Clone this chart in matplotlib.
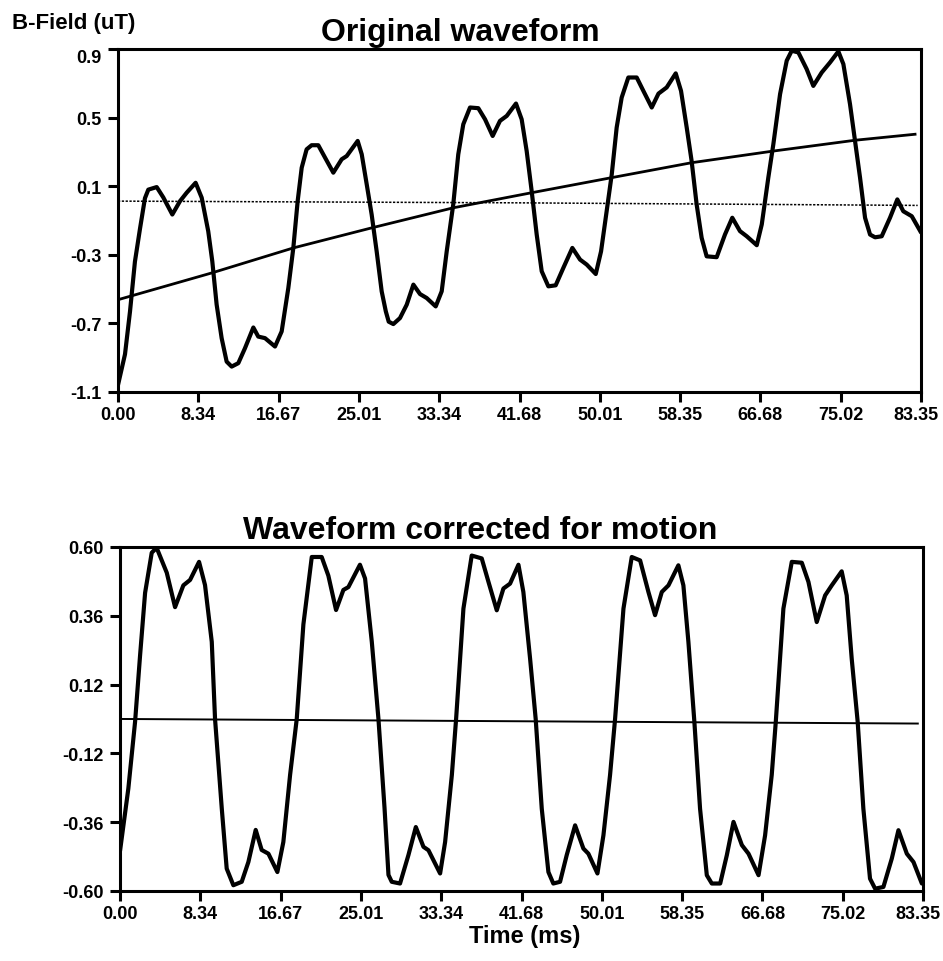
import matplotlib
matplotlib.use("Agg")
import matplotlib.pyplot as plt

plt.rcParams['font.family'] = ['Liberation Sans', 'DejaVu Sans']
plt.rcParams['font.weight'] = 'bold'

# ---------------- data ----------------
x_ticks = [0.00, 8.34, 16.67, 25.01, 33.34, 41.68, 50.01, 58.35, 66.68, 75.02, 83.35]
x_tick_labels = ["0.00", "8.34", "16.67", "25.01", "33.34", "41.68", "50.01",
                 "58.35", "66.68", "75.02", "83.35"]

top_yticks = [-1.1, -0.7, -0.3, 0.1, 0.5, 0.9]
top_ytick_labels = ["-1.1", "-0.7", "-0.3", "0.1", "0.5", "0.9"]
bot_yticks = [-0.60, -0.36, -0.12, 0.12, 0.36, 0.60]
bot_ytick_labels = ["-0.60", "-0.36", "-0.12", "0.12", "0.36", "0.60"]

# Original waveform (time ms, B-field uT)
orig_t = [0.0, 0.73, 1.25, 1.76, 2.28, 2.8, 3.15, 4.02, 4.7, 5.64, 6.44, 7.13, 8.06, 8.69,
          9.37, 9.79, 10.24, 10.76, 11.28, 11.8, 12.49, 13.18, 14.05, 14.56, 15.26, 16.3,
          16.99, 17.68, 18.2, 18.65, 19.07, 19.58, 20.1, 20.79, 21.49, 22.35, 23.22, 23.74,
          24.88, 25.3, 25.82, 26.33, 26.85, 27.37, 27.8, 28.1, 28.58, 29.27, 29.97, 30.66,
          31.35, 32.04, 32.98, 33.6, 34.12, 34.8, 35.32, 35.84, 36.54, 37.4, 38.1, 38.89,
          39.65, 40.35, 41.31, 41.9, 42.42, 42.94, 43.46, 43.98, 44.67, 45.43, 46.22, 47.16,
          47.96, 48.65, 49.59, 50.14, 50.72, 51.25, 51.76, 52.28, 52.97, 53.84, 54.53, 55.4,
          56.1, 56.95, 57.89, 58.44, 59.03, 59.54, 60.06, 60.58, 61.1, 62.14, 63.0, 63.76,
          64.56, 65.26, 66.3, 66.82, 67.5, 68.02, 68.72, 69.41, 69.93, 70.62, 71.48, 72.17,
          73.04, 73.91, 74.77, 75.29, 75.98, 76.5, 77.02, 77.54, 78.06, 78.58, 79.27, 80.13,
          80.89, 81.51, 82.39, 83.18, 83.35]
orig_v = [-1.06, -0.88, -0.63, -0.34, -0.15, 0.03, 0.08, 0.095, 0.035, -0.065, 0.013, 0.062,
          0.12, 0.033, -0.163, -0.338, -0.59, -0.786, -0.923, -0.952, -0.932, -0.845, -0.724,
          -0.777, -0.786, -0.835, -0.747, -0.494, -0.26, 0.013, 0.208, 0.315, 0.339, 0.339,
          0.267, 0.179, 0.257, 0.276, 0.364, 0.286, 0.11, -0.065, -0.28, -0.513, -0.63, -0.69,
          -0.704, -0.669, -0.591, -0.474, -0.529, -0.552, -0.601, -0.513, -0.28, -0.006, 0.286,
          0.461, 0.559, 0.555, 0.49, 0.393, 0.481, 0.51, 0.582, 0.49, 0.305, 0.071, -0.182,
          -0.396, -0.484, -0.478, -0.377, -0.26, -0.328, -0.357, -0.412, -0.28, -0.046, 0.169,
          0.442, 0.617, 0.734, 0.734, 0.656, 0.559, 0.64, 0.676, 0.758, 0.656, 0.442, 0.247,
          -0.006, -0.201, -0.309, -0.314, -0.182, -0.084, -0.162, -0.192, -0.244, -0.123, 0.15,
          0.344, 0.637, 0.832, 0.89, 0.88, 0.783, 0.685, 0.763, 0.822, 0.886, 0.812, 0.578,
          0.364, 0.15, -0.084, -0.182, -0.198, -0.192, -0.084, 0.023, -0.046, -0.075, -0.153,
          -0.17]

# Motion trend
trend_t = [0.0, 9.72, 18.2, 26.33, 34.8, 42.94, 51.25, 59.54, 68.02, 76.5, 82.73]
trend_v = [-0.562, -0.406, -0.26, -0.143, -0.026, 0.062, 0.15, 0.237, 0.305, 0.368, 0.403]

# Baselines
top_base_t = [0.0, 41.68, 83.0]
top_base_v = [0.013, 0.003, -0.012]
bot_base_t = [0.0, 82.8]
bot_base_v = [0.0, -0.016]

# Corrected waveform
corr_t = [0.0, 0.86, 1.56, 2.08, 2.6, 3.29, 3.8, 4.85, 5.71, 6.57, 7.27, 8.2, 8.82, 9.52,
          9.86, 10.56, 11.07, 11.76, 12.63, 13.32, 14.08, 14.7, 15.4, 16.33, 16.95, 17.65,
          18.34, 19.03, 19.9, 20.93, 21.62, 22.42, 23.18, 23.7, 24.9, 25.43, 26.13, 26.82,
          27.45, 27.86, 28.2, 29.06, 29.93, 30.7, 31.49, 32.01, 33.22, 33.74, 34.44, 34.88,
          35.64, 36.5, 37.54, 38.24, 39.1, 39.79, 40.48, 41.35, 41.86, 42.56, 43.14, 43.77,
          44.46, 44.97, 45.67, 46.36, 47.23, 48.09, 48.61, 49.55, 50.17, 50.86, 51.38, 52.25,
          53.11, 53.98, 54.84, 55.53, 56.23, 56.92, 57.95, 58.47, 58.99, 59.61, 60.2, 60.9,
          61.42, 62.29, 62.98, 63.67, 64.54, 65.23, 66.27, 66.95, 67.64, 68.06, 68.85, 69.72,
          70.76, 71.45, 72.31, 73.18, 73.87, 74.9, 75.42, 75.94, 76.56, 77.15, 77.84, 78.37,
          79.23, 80.1, 80.79, 81.66, 82.35, 83.22]
corr_v = [-0.46, -0.243, -0.01, 0.222, 0.44, 0.58, 0.597, 0.51, 0.39, 0.466, 0.485, 0.548,
          0.467, 0.269, 0.0, -0.313, -0.522, -0.58, -0.568, -0.499, -0.387, -0.457, -0.47,
          -0.534, -0.429, -0.195, 0.0, 0.33, 0.565, 0.565, 0.50, 0.38, 0.45, 0.46, 0.538, 0.49,
          0.269, 0.0, -0.31, -0.544, -0.568, -0.574, -0.475, -0.377, -0.446, -0.458, -0.539,
          -0.429, -0.195, 0.0, 0.385, 0.57, 0.56, 0.478, 0.379, 0.455, 0.472, 0.538, 0.443,
          0.21, 0.0, -0.313, -0.534, -0.574, -0.568, -0.475, -0.371, -0.452, -0.47, -0.539,
          -0.406, -0.195, 0.0, 0.385, 0.565, 0.553, 0.443, 0.362, 0.443, 0.466, 0.536, 0.466,
          0.269, -0.01, -0.313, -0.545, -0.574, -0.574, -0.475, -0.359, -0.44, -0.47, -0.545,
          -0.406, -0.195, -0.01, 0.385, 0.548, 0.545, 0.478, 0.338, 0.431, 0.466, 0.515, 0.431,
          0.21, -0.01, -0.313, -0.557, -0.592, -0.586, -0.487, -0.388, -0.47, -0.499, -0.574]

# ---------------- figure ----------------
W, H = 943, 962
fig = plt.figure(figsize=(W / 100, H / 100), dpi=100)
ax1 = fig.add_axes([0.1251, 0.5915, 0.8516, 0.3565])
ax2 = fig.add_axes([0.1273, 0.0728, 0.8516, 0.3576])

tick_fs = 13
tick_len = 7
tick_pad_x = 3


def style(ax, yticks, ylabels, ylim):
    ax.set_xlim(0, 83.35)
    ax.set_ylim(*ylim)
    ax.set_xticks(x_ticks)
    # last label is drawn separately, nudged left so it stays inside the figure
    ax.set_xticklabels(x_tick_labels[:-1] + [""], fontsize=tick_fs, fontweight='bold')
    ax.annotate(x_tick_labels[-1], xy=(x_ticks[-1], 0),
                xycoords=('data', 'axes fraction'),
                xytext=(-4, -(tick_len + tick_pad_x)), textcoords='offset points',
                ha='center', va='top', fontsize=tick_fs, fontweight='bold',
                annotation_clip=False)
    ax.set_yticks(yticks)
    ax.set_yticklabels(ylabels, fontsize=tick_fs, fontweight='bold')
    for s in ax.spines.values():
        s.set_linewidth(2.2)
    ax.tick_params(axis='both', direction='out', length=tick_len, width=2.2)
    ax.tick_params(axis='x', pad=tick_pad_x)
    ax.tick_params(axis='y', pad=5)


ax1.plot(orig_t, orig_v, color='black', lw=3.0, solid_joinstyle='round',
         solid_capstyle='round')
ax1.plot(trend_t, trend_v, color='black', lw=2.0)
ax1.plot(top_base_t, top_base_v, color='black', lw=1.1, linestyle=(0, (1.5, 1)))
style(ax1, top_yticks, top_ytick_labels, (-1.1, 0.9))
ax1.get_yticklabels()[-1].set_verticalalignment('top')

ax2.plot(corr_t, corr_v, color='black', lw=3.0, solid_joinstyle='round',
         solid_capstyle='round')
ax2.plot(bot_base_t, bot_base_v, color='black', lw=1.4)
style(ax2, bot_yticks, bot_ytick_labels, (-0.60, 0.60))

fig.text(460 / W, 1 - 33 / H, "Original waveform", fontsize=23, fontweight='bold',
         ha='center', va='center')
fig.text(480 / W, 1 - 531 / H, "Waveform corrected for motion", fontsize=23,
         fontweight='bold', ha='center', va='center')
fig.text(12 / W, 1 - 23 / H, "B-Field (uT)", fontsize=16, fontweight='bold', ha='left',
         va='center')
fig.text(525 / W, 1 - 937 / H, "Time (ms)", fontsize=17, fontweight='bold',
         ha='center', va='center')

fig.savefig("out.png", dpi=100)
